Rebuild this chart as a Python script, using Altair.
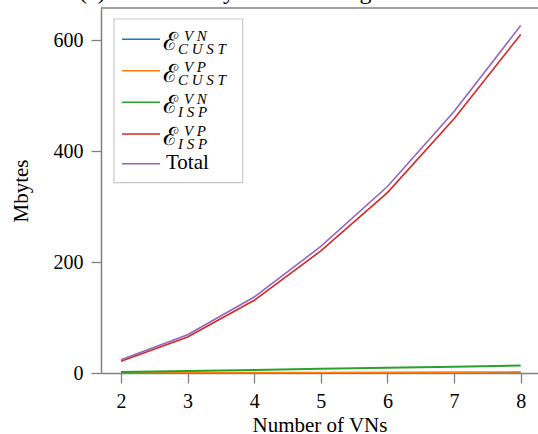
import altair as alt
import pandas as pd

x_vns = [2, 3, 4, 5, 6, 7, 8]
series_names = ["VN_CUST", "VP_CUST", "VN_ISP", "VP_ISP", "Total"]
vn_cust = [0.1, 0.15, 0.2, 0.25, 0.3, 0.35, 0.4]
vp_cust = [0.3, 0.5, 0.7, 1.0, 1.3, 1.6, 2.0]
vn_isp = [2.0, 3.8, 5.6, 7.5, 9.4, 11.4, 13.4]
vp_isp = [21, 65, 131, 220, 325, 458, 610]
total = [24, 69, 137, 228, 336, 471, 626]
colors = ["#1f77b4", "#ff7f0e", "#2ca02c", "#d62728", "#9467bd"]
x_ticks = [2, 3, 4, 5, 6, 7, 8]
y_ticks = [0, 200, 400, 600]

title_text = "(c) Overhead by data rate range of state"
x_title = "Number of VNs"
y_title = "Mbytes"

legend_sup = ["V N", "V P", "V N", "V P"]
legend_sub = ["C U S T", "C U S T", "I S P", "I S P"]
legend_plain = "Total"

rows = []
for name, vals in zip(series_names, [vn_cust, vp_cust, vn_isp, vp_isp, total]):
    for xv, v in zip(x_vns, vals):
        rows.append({"series": name, "x": xv, "value": v})
df = pd.DataFrame(rows)

W, H = 437, 365
SERIF = "Liberation Serif"

color_scale = alt.Scale(domain=series_names, range=colors)
xs = alt.X("x:Q", scale=alt.Scale(domain=[1.7, 8.26], nice=False, zero=False),
           axis=alt.Axis(values=x_ticks, format="d", title=x_title, titlePadding=3))
ys = alt.Y("value:Q", scale=alt.Scale(domain=[0, 657.7], nice=False),
           axis=alt.Axis(values=y_ticks, format="d", title=y_title, titlePadding=22))

layers = []
for name in series_names:
    sw = 2.0 if name == "VN_ISP" else 1.6
    layers.append(
        alt.Chart(df).transform_filter(alt.datum.series == name)
        .mark_line(strokeWidth=sw, clip=True)
        .encode(x=xs, y=ys, color=alt.Color("series:N", scale=color_scale, legend=None))
    )

# top frame line
layers.append(alt.Chart(pd.DataFrame({"a": [0]})).mark_rule(color="#808080", strokeWidth=1.5)
              .encode(x=alt.value(0), x2=alt.value(W + 5), y=alt.value(0)))

# title (cropped at top)
layers.append(alt.Chart(pd.DataFrame({"t": [title_text]})).mark_text(
    font=SERIF, fontSize=24, align="left", baseline="alphabetic", color="black")
    .encode(text="t:N", x=alt.value(-22), y=alt.value(-9.5)))

# legend box
layers.append(alt.Chart(pd.DataFrame({"a": [0]})).mark_rect(
    fill="white", stroke="#c8c8c8", strokeWidth=1.2)
    .encode(x=alt.value(13), x2=alt.value(141.7), y=alt.value(11), y2=alt.value(174.7)))

row_y = [31.3, 62.7, 94.3, 126, 155.7]
for i, name in enumerate(series_names):
    ry = row_y[i]
    layers.append(alt.Chart(pd.DataFrame({"series": [name]})).mark_rule(strokeWidth=1.6)
                  .encode(x=alt.value(21), x2=alt.value(59), y=alt.value(ry),
                          color=alt.Color("series:N", scale=color_scale, legend=None)))
    if i < 4:
        layers.append(alt.Chart(pd.DataFrame({"t": ["ℰ"]})).mark_text(
            font="DejaVu Serif", fontSize=25, align="left", baseline="alphabetic", color="black")
            .encode(text="t:N", x=alt.value(62), y=alt.value(ry + 11)))
        layers.append(alt.Chart(pd.DataFrame({"t": [legend_sup[i]]})).mark_text(
            font=SERIF, fontSize=15, fontStyle="italic", align="left", baseline="alphabetic", color="black")
            .encode(text="t:N", x=alt.value(83), y=alt.value(ry + 1.5)))
        layers.append(alt.Chart(pd.DataFrame({"t": [legend_sub[i]]})).mark_text(
            font=SERIF, fontSize=15, fontStyle="italic", align="left", baseline="alphabetic", color="black")
            .encode(text="t:N", x=alt.value(77), y=alt.value(ry + 14.5)))
    else:
        layers.append(alt.Chart(pd.DataFrame({"t": [legend_plain]})).mark_text(
            font=SERIF, fontSize=21, align="left", baseline="alphabetic", color="black")
            .encode(text="t:N", x=alt.value(65), y=alt.value(ry + 5.3)))

chart = alt.layer(*layers).properties(
    width=W, height=H,
    autosize=alt.AutoSizeParams(type="none"),
    padding={"left": 101, "top": 8, "right": 0, "bottom": 61},
).configure_view(stroke=None).configure_axis(
    grid=False,
    labelFont=SERIF, labelFontSize=20, labelColor="black",
    titleFont=SERIF, titleFontSize=21, titleFontWeight="normal", titleColor="black",
    domainColor="#808080", domainWidth=1.5, tickColor="#808080", tickWidth=1.3, tickSize=10,
    labelPadding=8,
)

chart.save("out.html", embed_options={"renderer": "svg", "actions": False})
